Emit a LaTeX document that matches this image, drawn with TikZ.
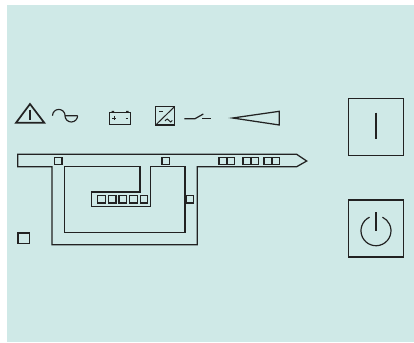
\documentclass[tikz,border=0pt]{standalone}
\definecolor{panel}{HTML}{CFE9E7}
\definecolor{ink}{HTML}{222222}
\tikzset{
  ln/.style={draw=ink,line width=1.25pt,line join=miter},
  thin ln/.style={draw=ink,line width=1pt},
  sq/.style={draw=ink,line width=1.25pt},
  btn/.style={draw=ink,line width=1.2pt}
}
\begin{document}
\begin{tikzpicture}[x=1pt,y=-1pt]
\useasboundingbox (0,0) rectangle (414,342);
\fill[white] (0,0) rectangle (414,342);
\fill[panel] (7,5) rectangle (414,342);
% warning triangle
\draw[draw=ink,line width=1.7pt] (30,104) -- (44.3,122.8) -- (16,122.8) -- cycle;
\draw[draw=ink,line width=1.2pt] (30,109.5) -- (30,120);
% sine
\draw[thin ln,line width=1.15pt] (52.5,115.7) arc[start angle=180,end angle=360,radius=6.3] -- (77.7,115.7);
\draw[thin ln,line width=1.15pt] (65,115.7) arc[start angle=180,end angle=0,radius=6.3];
% battery
\draw[ln] (109.5,112.7) rectangle (130.5,124.7);
\fill[ink] (111.5,110.8) rectangle (114.2,112.7) (126,110.8) rectangle (128.7,112.7);
\draw[draw=ink,line width=0.8pt] (112.3,118) -- (115.7,118) (114,116.3) -- (114,119.7) (125.5,118) -- (128,118);
% converter
\draw[ln] (155.7,106.5) rectangle (174.7,125);
\draw[thin ln] (155.7,125) -- (174.7,106.5);
\draw[thin ln] (159,111.3) -- (162.7,111.3);
\draw[thin ln] (165,121) .. controls (167,118.5) and (168,118.5) .. (169,120.5) .. controls (170,122.5) and (171,122.5) .. (172.3,120.5);
% switch
\draw[thin ln,line width=1.2pt] (184.3,118.7) -- (195,118.7) -- (203.3,114);
\draw[thin ln,line width=1.2pt] (202.3,118.7) -- (211.3,118.7);
% wedge
\draw[ln,line join=miter] (232.7,118) -- (279.3,111.3) -- (279.3,125) -- cycle;
% outer conduit
\draw[ln] (17.7,154.3) -- (296.7,154.3) -- (306.7,161) -- (296.7,166.7) -- (197.3,166.7) -- (197.3,244.7) -- (52,244.7) -- (52,166.7) -- (17.7,166.7) -- cycle;
% inner conduit
\draw[ln] (64.3,166.7) -- (140,166.7) -- (140,192) -- (91.7,192) -- (91.7,206.7) -- (150.7,206.7) -- (150.7,166.7) -- (185,166.7) -- (185,232.7) -- (64.3,232.7) -- cycle;
% small squares
\foreach \x in {54.5,162,219,227,243,251,264,272} \draw[sq] (\x,157.2) rectangle ++(7.6,7.4);
\foreach \x in {97.8,108.4,119,129.7,140.2} \draw[sq] (\x,195.4) rectangle ++(7.6,7.5);
\draw[sq] (186.2,195.4) rectangle ++(7.6,7.5);
\draw[sq,line width=1.4pt] (18,233) rectangle (29.2,243.2);
% buttons
\draw[btn] (348.5,98.8) rectangle (403.7,155.7);
\draw[btn] (348.5,200) rectangle (403.7,257);
\draw[draw=ink,line width=1.9pt] (376,112.7) -- (376,139.3);
\draw[draw=ink,line width=1.9pt] (376,212) -- (376,230.7);
\draw[draw=ink,line width=1.2pt] (369.5,217.2) arc[start angle=-115.6,end angle=-424.4,radius=15];
\end{tikzpicture}
\end{document}
